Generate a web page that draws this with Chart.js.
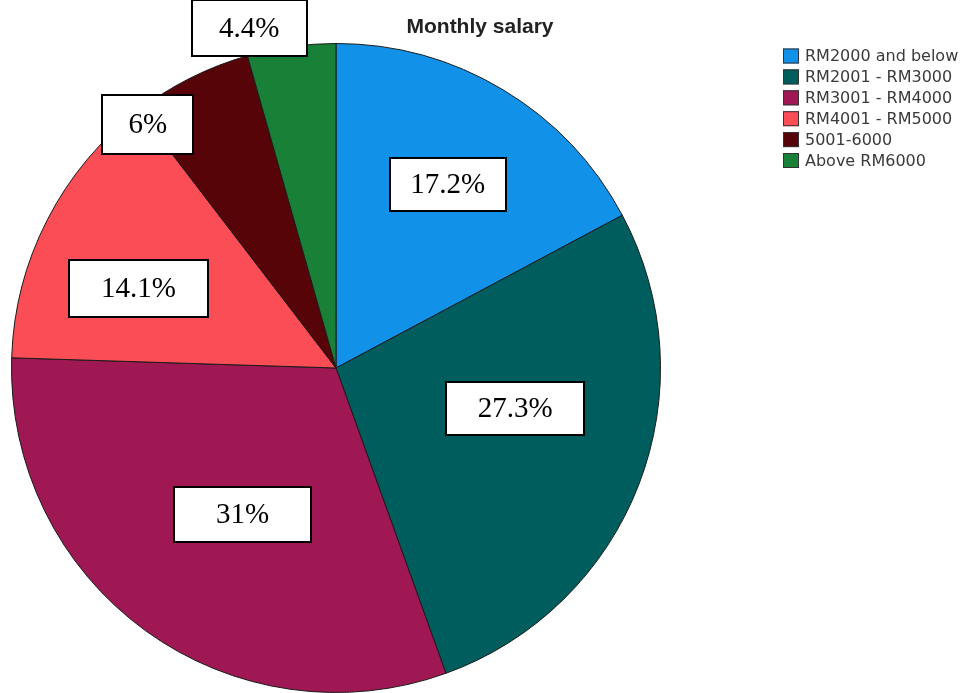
<!DOCTYPE html>
<html>
<head>
<meta charset="utf-8">
<script src="https://cdn.jsdelivr.net/npm/chart.js@4/dist/chart.umd.min.js"></script>
<style>
  html, body { margin: 0; padding: 0; background: #fff; }
  #wrap { width: 966px; height: 693px; position: relative; }
</style>
</head>
<body>
<div id="wrap"><canvas id="salaryChart" width="966" height="693"></canvas></div>
<script>
const chartTitle = "Monthly salary";
const categories = ["RM2000 and below", "RM2001 - RM3000", "RM3001 - RM4000", "RM4001 - RM5000", "5001-6000", "Above RM6000"];
const percents = [17.2, 27.3, 31, 14.1, 6, 4.4];
const sliceColors = ["#1192e8", "#005d5d", "#9f1853", "#fa4d56", "#570408", "#198038"];

// where each value box sits: fraction of radius, angle nudge (deg), box size
const boxPlacement = [
    {dist: 0.662, shift: 0.4, w: 118, h: 55},
    {dist: 0.566, shift: -8.3, w: 140, h: 55},
    {dist: 0.536, shift: -3.5, w: 139, h: 57},
    {dist: 0.656, shift: -5.3, w: 141, h: 59},
    {dist: 0.949, shift: -11, w: 93, h: 61},
    {dist: 1.081, shift: -6.4, w: 117, h: 58}
];

const overlay = {
    id: "overlay",
    afterDraw(chart){
        const ctx = chart.ctx;
        ctx.save();
        // title
        ctx.fillStyle = "#222";
        ctx.font = 'bold 21px "Liberation Sans", Arial, sans-serif';
        ctx.textAlign = "center";
        ctx.textBaseline = "middle";
        ctx.fillText(chartTitle, 480, 27);

        // legend
        ctx.font = '16px "DejaVu Sans", sans-serif';
        ctx.textAlign = "left";
        categories.forEach((c, i) => {
            const y = 56 + i*20.9;
            ctx.fillStyle = sliceColors[i];
            ctx.fillRect(783, y - 7.5, 16, 15);
            ctx.strokeStyle = "#333";
            ctx.lineWidth = 1;
            ctx.strokeRect(783.5, y - 7, 15, 14);
            ctx.fillStyle = "#3a3a3a";
            ctx.fillText(c, 805, y + 1);
        });

        // value boxes
        const arcs = chart.getDatasetMeta(0).data;
        ctx.font = '29px "Liberation Serif", "Times New Roman", serif';
        ctx.textAlign = "center";
        arcs.forEach((arc, i) => {
            const p = arc.getProps(["x", "y", "startAngle", "endAngle", "outerRadius"], true);
            const pl = boxPlacement[i];
            const a = (p.startAngle + p.endAngle)/2 + pl.shift*Math.PI/180;
            const cx = p.x + Math.cos(a)*p.outerRadius*pl.dist;
            const cy = p.y + Math.sin(a)*p.outerRadius*pl.dist;
            const x0 = Math.round(cx - pl.w/2), y0 = Math.round(cy - pl.h/2);
            ctx.fillStyle = "#fff";
            ctx.fillRect(x0, y0, pl.w, pl.h);
            ctx.strokeStyle = "#000";
            ctx.lineWidth = 2;
            ctx.strokeRect(x0 + 1, y0 + 1, pl.w - 2, pl.h - 2);
            ctx.fillStyle = "#000";
            ctx.fillText(percents[i] + "%", cx, cy + 1);
        });
        ctx.restore();
    }
};

new Chart(document.getElementById("salaryChart"), {
    type: "pie",
    data: {
        labels: categories,
        datasets: [{
            data: percents,
            backgroundColor: sliceColors,
            borderColor: "#1a1a1a",
            borderWidth: 1
        }]
    },
    options: {
        responsive: false,
        animation: false,
        layout: {padding: {left: 11, top: 43, right: 305, bottom: 0}},
        plugins: {legend: {display: false}, tooltip: {enabled: false}, title: {display: false}}
    },
    plugins: [overlay]
});
</script>
</body>
</html>
